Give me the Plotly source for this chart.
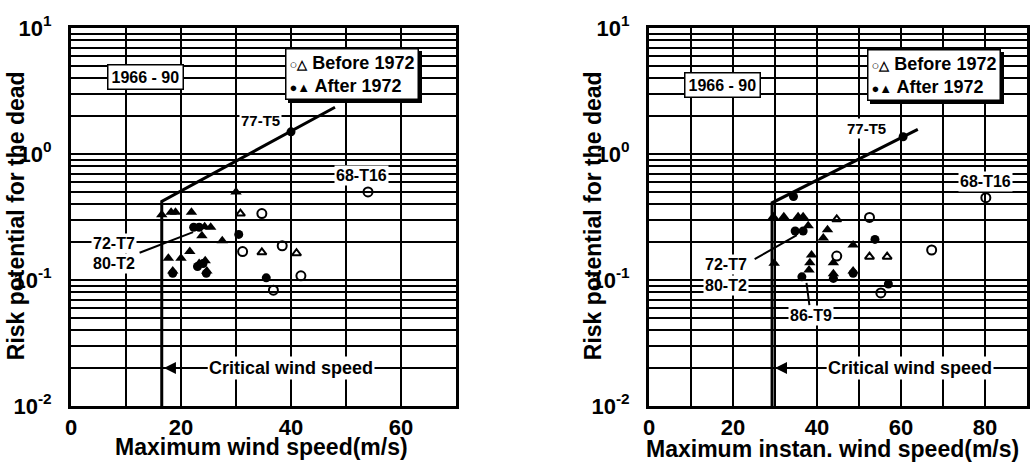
import numpy as np
import plotly.graph_objects as go

# ---------------- data ----------------
# Left panel: maximum wind speed (m/s) vs risk potential
L_before_circ_x = [54.0, 34.7, 31.2, 38.4, 41.8, 36.8]
L_before_circ_y = [0.50, 0.337, 0.168, 0.187, 0.108, 0.083]
L_before_tri_x = [30.8, 34.7, 41.0]
L_before_tri_y = [0.337, 0.166, 0.163]
L_after_circ_x = [40.0, 30.5, 35.5, 18.5, 24.6, 22.3, 23.3, 24.0, 23.0]
L_after_circ_y = [1.5, 0.23, 0.104, 0.113, 0.113, 0.262, 0.262, 0.135, 0.128]
L_after_tri_x = [30.0, 16.5, 18.2, 19.0, 21.9, 23.8, 27.5, 21.6, 20.0, 17.7,
                 24.3, 25.4, 24.4, 23.3, 18.5, 24.7]
L_after_tri_y = [0.50, 0.33, 0.345, 0.345, 0.345, 0.225, 0.205, 0.168, 0.149, 0.149,
                 0.265, 0.262, 0.142, 0.135, 0.118, 0.118]
L_crit_x = [16.5, 16.5, 48.0]
L_crit_y = [0.01, 0.42, 2.35]

# Right panel: maximum instantaneous wind speed (m/s) vs risk potential
R_before_circ_x = [80.2, 52.5, 67.3, 44.7, 55.2]
R_before_circ_y = [0.45, 0.314, 0.173, 0.155, 0.079]
R_before_tri_x = [44.7, 52.5, 56.7]
R_before_tri_y = [0.303, 0.153, 0.153]
R_after_circ_x = [60.5, 34.4, 34.8, 36.7, 53.8, 36.4, 48.6, 57.0, 43.9]
R_after_circ_y = [1.37, 0.46, 0.245, 0.245, 0.21, 0.106, 0.113, 0.093, 0.103]
R_after_tri_x = [29.6, 32.1, 35.5, 36.7, 37.9, 42.5, 41.5, 48.6, 38.7, 38.3,
                 38.1, 43.9, 29.8, 48.6, 43.9]
R_after_tri_y = [0.318, 0.318, 0.318, 0.318, 0.27, 0.25, 0.215, 0.19, 0.158, 0.137,
                 0.12, 0.137, 0.136, 0.118, 0.112]
R_crit_x = [29.3, 29.3, 64.0]
R_crit_y = [0.01, 0.41, 1.57]

# tick labels
y_tickvals = [0.01, 0.1, 1, 10]
y_ticktext = ["10<sup>-2</sup>", "10<sup>-1</sup>", "10<sup>0</sup>", "10<sup>1</sup>"]
y_minor = [m * d for d in (0.01, 0.1, 1) for m in range(2, 10)]
L_xticks = [0, 20, 40, 60]
L_xminor = [10, 30, 50]
R_xticks = [0, 20, 40, 60, 80]
R_xminor = [10, 30, 50, 70, 90]

FONT = "Liberation Sans"
BLACK = "black"

fig = go.Figure()


def add_panel(xa, ya, bcx, bcy, btx, bty, acx, acy, atx, aty, cx, cy):
    fig.add_trace(go.Scatter(x=cx, y=cy, mode="lines", xaxis=xa, yaxis=ya,
                             line=dict(color=BLACK, width=3), showlegend=False, hoverinfo="skip"))
    fig.add_trace(go.Scatter(x=bcx, y=bcy, mode="markers", xaxis=xa, yaxis=ya, name="Before 1972",
                             marker=dict(symbol="circle-open", size=9, color=BLACK,
                                         line=dict(width=2, color=BLACK)), showlegend=False))
    fig.add_trace(go.Scatter(x=btx, y=bty, mode="markers", xaxis=xa, yaxis=ya, name="Before 1972",
                             marker=dict(symbol="triangle-up-open", size=8, color=BLACK,
                                         line=dict(width=2, color=BLACK)), showlegend=False))
    fig.add_trace(go.Scatter(x=acx, y=acy, mode="markers", xaxis=xa, yaxis=ya, name="After 1972",
                             marker=dict(symbol="circle", size=9, color=BLACK), showlegend=False))
    fig.add_trace(go.Scatter(x=atx, y=aty, mode="markers", xaxis=xa, yaxis=ya, name="After 1972",
                             marker=dict(symbol="triangle-up", size=10, color=BLACK), showlegend=False))


add_panel("x", "y", L_before_circ_x, L_before_circ_y, L_before_tri_x, L_before_tri_y,
          L_after_circ_x, L_after_circ_y, L_after_tri_x, L_after_tri_y, L_crit_x, L_crit_y)
add_panel("x2", "y2", R_before_circ_x, R_before_circ_y, R_before_tri_x, R_before_tri_y,
          R_after_circ_x, R_after_circ_y, R_after_tri_x, R_after_tri_y, R_crit_x, R_crit_y)

W, H = 1034, 467
ydom = [(H - 406) / H, (H - 28) / H]

common_x = dict(showline=True, mirror=True, linecolor=BLACK, linewidth=3, automargin=False,
                showgrid=True, gridcolor=BLACK, gridwidth=1.6, zeroline=False,
                ticks="", ticklabelstandoff=0,
                tickfont=dict(family=FONT, size=22, color=BLACK, weight="bold"))
common_y = dict(type="log", range=[-2, 1], domain=ydom, showline=True, mirror=True,
                linecolor=BLACK, linewidth=3, showgrid=True, gridcolor=BLACK, gridwidth=1.6,
                zeroline=False, ticks="", tickmode="array", tickvals=y_tickvals,
                ticktext=y_ticktext, ticklabelstandoff=12, automargin=False,
                tickfont=dict(family=FONT, size=22, color=BLACK, weight="bold"),
                minor=dict(tickmode="array", tickvals=y_minor, showgrid=True,
                           gridcolor=BLACK, gridwidth=1.6, ticks=""))

fig.update_layout(
    width=W, height=H, margin=dict(l=0, r=0, t=0, b=0, autoexpand=False),
    paper_bgcolor="white", plot_bgcolor="white", showlegend=False,
    xaxis=dict(common_x, domain=[71 / W, 456 / W], range=[0, 70], anchor="y",
               tickmode="array", tickvals=L_xticks,
               minor=dict(tickmode="array", tickvals=L_xminor, showgrid=True,
                          gridcolor=BLACK, gridwidth=1.6, ticks="")),
    yaxis=dict(common_y, anchor="x"),
    xaxis2=dict(common_x, domain=[649 / W, 1027 / W], range=[0, 90], anchor="y2",
                tickmode="array", tickvals=R_xticks,
                minor=dict(tickmode="array", tickvals=R_xminor, showgrid=True,
                           gridcolor=BLACK, gridwidth=1.6, ticks="")),
    yaxis2=dict(common_y, anchor="x2"),
)

lg = np.log10
ann = []


def label(xr, yr, x, y, text, size=16, **kw):
    d = dict(xref=xr, yref=yr, x=x, y=lg(y), text="<b>%s</b>" % text, showarrow=False,
             font=dict(family=FONT, size=size, color=BLACK), bgcolor="white", borderpad=1)
    d.update(kw)
    ann.append(d)


legend_text = ("<span style='font-size:13px'>○△</span> Before 1972<br>"
               "<span style='font-size:13px'>●▲</span> After 1972")

for xr, yr, lx, ly, t77, t68, t72, t80, lead, crit, legx, legy in [
    ("x", "y", 13.6, 4.1, (34.4, 1.86), (52.9, 0.68), (7.8, 10 ** -0.708),
     (7.8, 10 ** -0.867), (12.2, -0.788, 22.2, -0.62), (40.0, 0.02, 16.9), 38.9, 0.843),
    ("x2", "y2", 17.4, 3.53, (51.7, 1.58), (80.0, 0.61), (18.3, 10 ** -0.873),
     (18.3, 10 ** -1.04), (24.8, -0.841, 35.2, -0.643), (62.1, 0.02, 30.0), 51.9, 0.833),
]:
    # 1966 - 90 box
    label(xr, yr, lx, ly, "1966 - 90", size=16, bordercolor=BLACK, borderwidth=1.5, borderpad=3)
    label(xr, yr, t77[0], t77[1], "77-T5", size=15)
    label(xr, yr, t68[0], t68[1], "68-T16", size=16)
    label(xr, yr, t72[0], t72[1], "72-T7", size=16)
    label(xr, yr, t80[0], t80[1], "80-T2", size=16)
    # leader line for 72-T7 / 80-T2
    ann.append(dict(xref=xr, yref=yr, axref=xr, ayref=yr, x=lead[2], y=lead[3],
                    ax=lead[0], ay=lead[1], text="", showarrow=True, arrowhead=0,
                    arrowwidth=2, arrowcolor=BLACK))
    # critical wind speed
    ann.append(dict(xref=xr, yref=yr, axref=xr, ayref=yr, x=crit[2], y=lg(crit[1]),
                    ax=crit[0], ay=lg(crit[1]), text="<b>Critical wind speed</b>",
                    showarrow=True, arrowhead=2, arrowsize=1.2, arrowwidth=2,
                    arrowcolor=BLACK, bgcolor="white", borderpad=1,
                    font=dict(family=FONT, size=18, color=BLACK)))
    # legend box: shadow + box
    ann.append(dict(xref=xr, yref=yr, x=legx, y=legy, xanchor="left", yanchor="top",
                    text="<b>" + legend_text + "</b>", showarrow=False, align="left",
                    font=dict(family=FONT, size=18, color=BLACK), bgcolor=BLACK,
                    bordercolor=BLACK, borderwidth=1.5, borderpad=3, xshift=3, yshift=-3))
    ann.append(dict(xref=xr, yref=yr, x=legx, y=legy, xanchor="left", yanchor="top",
                    text="<b>" + legend_text + "</b>", showarrow=False, align="left",
                    font=dict(family=FONT, size=18, color=BLACK), bgcolor="white",
                    bordercolor=BLACK, borderwidth=1.5, borderpad=3))

# 86-T9 (right panel only)
ann.append(dict(xref="x2", yref="y2", axref="x2", ayref="y2", x=37.5, y=lg(0.095),
                ax=38.5, ay=-1.278, text="<b>86-T9</b>", showarrow=True, arrowhead=0,
                arrowwidth=2, arrowcolor=BLACK, bgcolor="white", borderpad=1,
                font=dict(family=FONT, size=16, color=BLACK)))

# axis titles
TF = dict(family=FONT, size=23, color=BLACK)
C = dict(xanchor="center", yanchor="middle", showarrow=False, font=TF, xref="paper", yref="paper")
ann += [
    dict(C, x=16 / W, y=0.537, text="<b>Risk potential for the dead</b>", textangle=-90),
    dict(C, x=593 / W, y=0.537, text="<b>Risk potential for the dead</b>", textangle=-90),
    dict(C, x=261 / W, y=(H - 447) / H, text="<b>Maximum wind speed(m/s)</b>"),
    dict(C, x=832 / W, y=(H - 449) / H, text="<b>Maximum instan. wind speed(m/s)</b>"),
]

fig.update_layout(annotations=ann)
fig.write_html("out.html")
